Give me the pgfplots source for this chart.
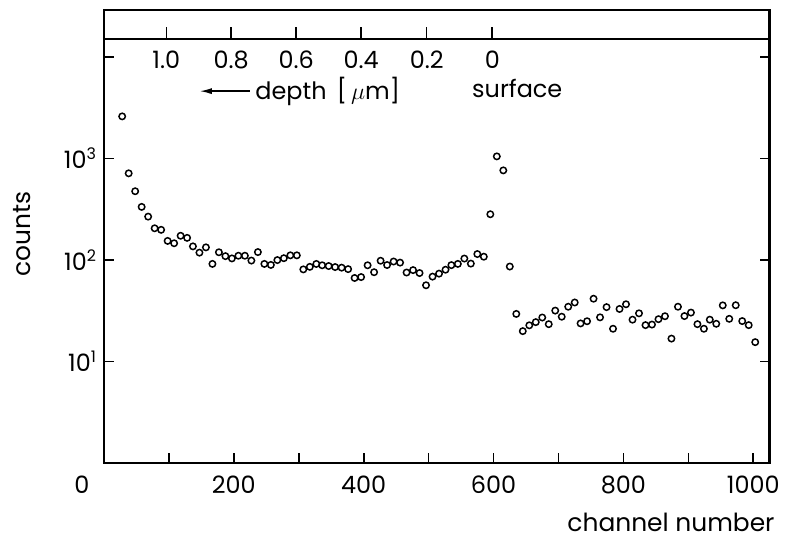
\documentclass[border=0pt]{standalone}
\usepackage{pgfplots}
\pgfplotsset{compat=1.18}
\usepackage{fontspec}
\setmainfont{Poppins}
\usetikzlibrary{arrows.meta}

\pgfplotstableread{
x y
28 2594
38 713
48 475
58 333
68 267
78 205
88 198
98 154
108 146
118 173
128 165
137 136
147 118
157 133
167 91.4
177 119
187 109
197 103.5
207 110
217 110
227 98.6
237 119.5
247 91.4
257 89.3
267 99.7
277 104
287 111
297 111
307 80.7
317 85.5
327 91.3
336 88.6
346 87.1
356 85.1
366 83.9
376 81.2
386 66.4
396 67.8
406 88.6
416 75.7
426 98.2
436 89.1
446 96.5
456 94.1
466 75.2
476 79.4
486 74.3
496 56.3
506 68.5
516 73.3
526 80.1
535 88.9
545 91.4
555 103.2
565 92.0
575 114.3
585 107.6
595 281.8
605 1047
615 762
625 86.1
635 29.4
645 19.9
655 22.7
665 24.4
675 27.1
685 23.3
695 31.7
705 27.6
715 34.6
725 38.1
734 23.7
744 24.9
754 41.5
764 27.2
774 34.3
784 21.0
794 32.9
804 36.6
814 25.8
824 29.8
834 22.8
844 23.1
854 26.1
864 27.9
874 16.8
884 34.6
894 28.0
904 30.3
914 23.3
924 21.0
933 25.8
943 23.5
953 35.7
963 26.3
973 35.8
983 25.0
993 22.8
1003 15.5
}\datatable

\begin{document}
\begin{tikzpicture}
\useasboundingbox (-52bp,-39bp) rectangle (344.5bp,231.5bp);
\begin{axis}[
  at={(0bp,0bp)}, anchor=south west,
  scale only axis, width=332.75bp, height=212bp,
  xmin=0, xmax=1025,
  ymode=log, ymin=1, ymax=15000,
  clip=false,
  axis line style={line width=1.3pt},
  xtick={100,200,...,1000},
  xticklabels={,200,,400,,600,,800,,1000},
  xtick pos=bottom,
  ytick={10,100,1000,10000},
  yticklabels={10\textsuperscript{1},10\textsuperscript{2},10\textsuperscript{3},},
  ytick pos=both, yticklabel pos=left,
  yminorticks=false,
  tick align=inside,
  major tick length=5bp,
  tick style={line width=0.8pt, black},
  ticklabel style={font=\fontsize{12}{14}\selectfont},
  xticklabel style={yshift=-3bp},
  ylabel={counts},
  ylabel style={at={(axis description cs:-0.123,0.54)}, anchor=center, font=\fontsize{12.5}{14}\selectfont},
  xlabel={channel number},
  xlabel style={at={(axis description cs:0.852,-0.139)}, anchor=center, font=\fontsize{12.5}{14}\selectfont},
]
\addplot[only marks, mark=o, mark size=1.6bp, mark options={line width=0.75pt, black}] table[x=x, y=y] {\datatable};
\node[anchor=north, font=\fontsize{12}{14}\selectfont, yshift=-3bp, xshift=-11bp, inner sep=3.3pt] at (axis cs:0,1) {0};
\node[anchor=west, font=\fontsize{12}{14}\selectfont, inner sep=0pt] (dep) at (rel axis cs:0.227,0.877) {depth \,[\,$\mu$m]};
\draw[-{Latex[length=6bp,width=3bp]}, line width=0.7pt] (rel axis cs:0.219,0.877) -- (rel axis cs:0.144,0.877);
\node[anchor=center, font=\fontsize{12}{14}\selectfont] at (rel axis cs:0.621,0.884) {surface};
\end{axis}
\begin{axis}[
  at={(0bp,212bp)}, anchor=south west,
  scale only axis, width=332.75bp, height=14.5bp,
  xmin=0, xmax=1025, ymin=0, ymax=1,
  axis line style={line width=1.3pt},
  xtick={96,196,296,396,497,598},
  xticklabels={1.0,0.8,0.6,0.4,0.2,0},
  xtick pos=bottom, tick align=inside,
  major tick length=6bp,
  tick style={line width=0.8pt, black},
  ytick=\empty,
  ticklabel style={font=\fontsize{12}{14}\selectfont},
  xticklabel style={yshift=-2.5bp},
]
\end{axis}
\end{tikzpicture}
\end{document}
